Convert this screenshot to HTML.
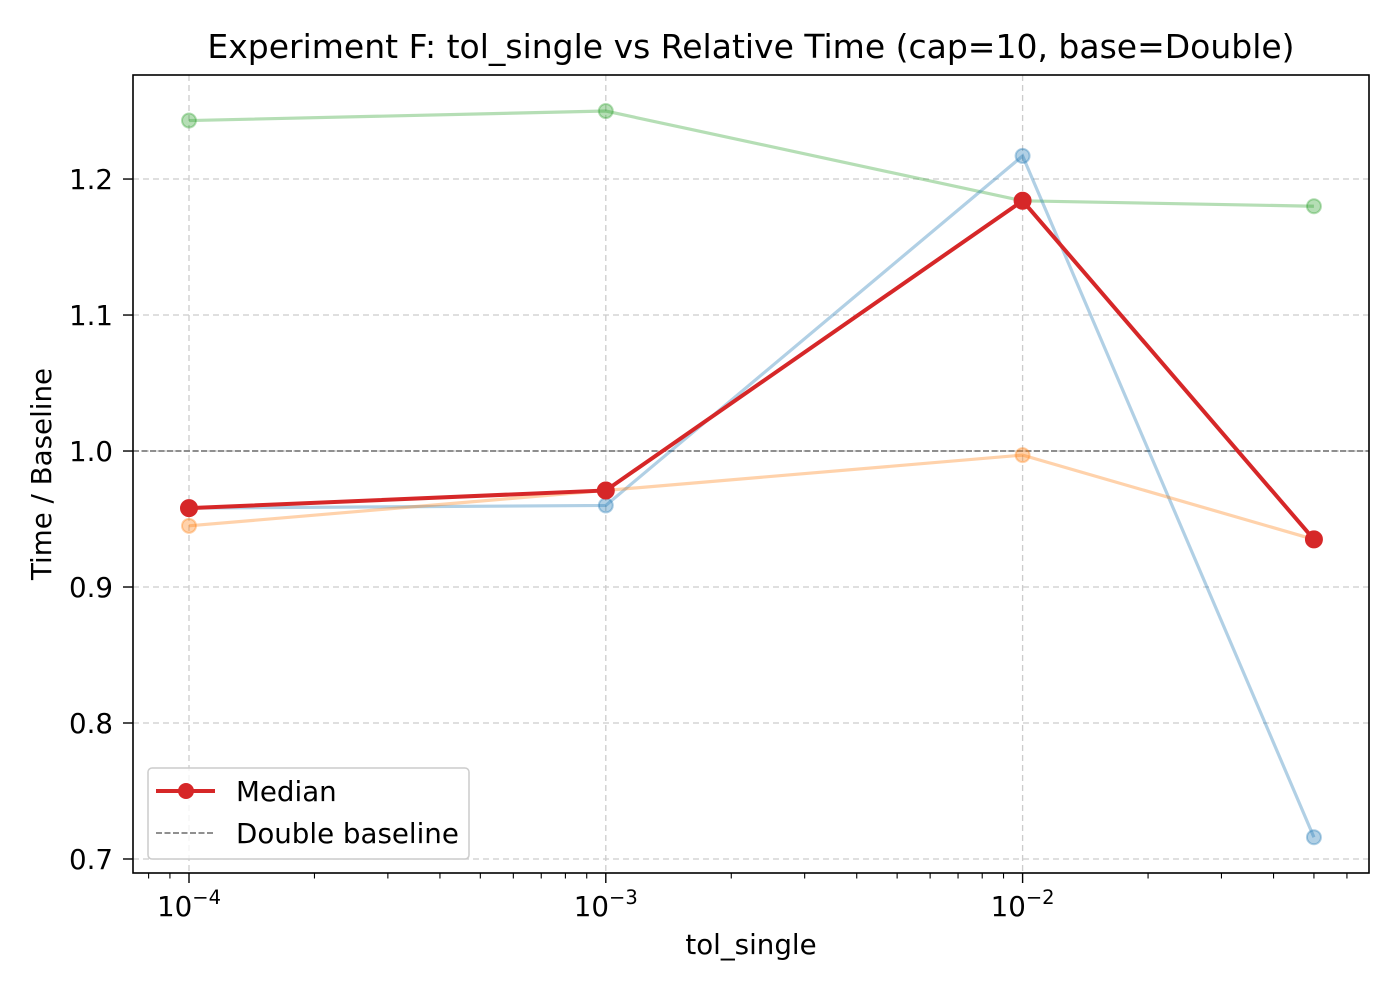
<!DOCTYPE html>
<html><head><meta charset="utf-8"><style>
body{margin:0;background:#fff;}
svg{display:block;font-family:"DejaVu Sans","Liberation Sans",sans-serif;}
</style></head><body>
<svg id="chart" width="1400" height="1000"></svg>
<script>
const xs=[0.0001,0.001,0.01,0.05];
const greenVals=[1.243,1.250,1.184,1.180];
const blueVals=[0.958,0.960,1.217,0.716];
const orangeVals=[0.945,0.971,0.997,0.935];
const medianVals=[0.958,0.971,1.184,0.935];
const yTicks=[0.7,0.8,0.9,1.0,1.1,1.2];
const yTickLabels=["0.7","0.8","0.9","1.0","1.1","1.2"];
const xTickExps=[-4,-3,-2];

const L=133,R=1369,T=75,B=873;
const xmin=-4-56/416.8,xmax=-4+1180/416.8,ymin=0.6897,ymax=1.2765;
const X=v=>L+(Math.log10(v)-xmin)/(xmax-xmin)*(R-L);
const Y=v=>B-(v-ymin)/(ymax-ymin)*(B-T);
const svg=document.getElementById('chart');
const NS='http://www.w3.org/2000/svg';
function mk(tag,attrs,parent){const e=document.createElementNS(NS,tag);for(const k in attrs)e.setAttribute(k,attrs[k]);(parent||svg).appendChild(e);return e;}

yTicks.forEach((v,i)=>{
 const g=mk('line',{x1:L,x2:R,y1:Y(v),y2:Y(v),stroke:'#ccc','stroke-dasharray':'6,4','stroke-width':1.3});
 
 
 const t=mk('line',{x1:L-10,x2:L,y1:Y(v),y2:Y(v),stroke:'#000','stroke-width':1.4});
 
 
 const tx=mk('text',{x:L-20,y:Y(v)+10,'text-anchor':'end','font-size':27.7});
 tx.textContent=yTickLabels[i];
 
 
});
xTickExps.forEach(e=>{
 const x=X(Math.pow(10,e));
 const g=mk('line',{x1:x,x2:x,y1:T,y2:B,stroke:'#ccc','stroke-dasharray':'6,4','stroke-width':1.3});
 
 
 const t=mk('line',{x1:x,x2:x,y1:B,y2:B+10,stroke:'#000','stroke-width':1.4});
 
 
 const tx=mk('text',{x:x,y:916,'text-anchor':'middle','font-size':27.7});
 tx.innerHTML='10<tspan dy="-12" font-size="19.5">−'+(-e)+'</tspan>';
 
 
});
for(let e=-5;e<=-1;e++)for(let m=2;m<=9;m++){
 const v=m*Math.pow(10,e);const lv=Math.log10(v);
 if(lv<xmin||lv>xmax)continue;
 const t=mk('line',{x1:X(v),x2:X(v),y1:B,y2:B+5.5,stroke:'#000','stroke-width':1.1});
 
 
}
const bl=mk('line',{x1:L,x2:R,y1:Y(1),y2:Y(1),stroke:'#808080','stroke-dasharray':'6,2.5','stroke-width':1.8});



function series(vals,color,name,op,w,r){
 const pts=vals.map((v,i)=>X(xs[i])+','+Y(v)).join(' ');
 const p=mk('polyline',{points:pts,fill:'none',stroke:color,'stroke-width':w,'stroke-opacity':op});
 
 
 vals.forEach((v,i)=>{
  const c=mk('circle',{cx:X(xs[i]),cy:Y(v),r:r,fill:color,'fill-opacity':op,stroke:color,'stroke-opacity':op,'stroke-width':2});
  
  
 });
}
series(greenVals,'#2ca02c','series-green',0.35,3.2,7);
series(blueVals,'#1f77b4','series-blue',0.35,3.2,7);
series(orangeVals,'#ff7f0e','series-orange',0.35,3.2,7);
series(medianVals,'#d62728','median',1,4,8);

const fr=mk('rect',{x:L,y:T,width:R-L,height:B-T,fill:'none',stroke:'#000','stroke-width':1.6});



const ti=mk('text',{x:(L+R)/2,y:58,'text-anchor':'middle','font-size':33});
ti.textContent='Experiment F: tol_single vs Relative Time (cap=10, base=Double)';


const xl=mk('text',{x:(L+R)/2,y:954,'text-anchor':'middle','font-size':27.7});
xl.textContent='tol_single';


const yl=mk('text',{x:0,y:0,'text-anchor':'middle','font-size':27.7,transform:'translate(51,474) rotate(-90)'});
yl.textContent='Time / Baseline';



const lg=mk('g',{});


mk('rect',{x:148,y:768,width:321,height:91,rx:4,fill:'#fff','fill-opacity':0.8,stroke:'#ccc','stroke-width':1.5},lg);
const l1=mk('line',{x1:156,x2:215,y1:791,y2:791,stroke:'#d62728','stroke-width':4},lg);


mk('circle',{cx:186,cy:791,r:8,fill:'#d62728'},lg);
const t1=mk('text',{x:236,y:801,'font-size':27.7},lg);t1.textContent='Median';


const l2=mk('line',{x1:156,x2:215,y1:833,y2:833,stroke:'#808080','stroke-width':1.8,'stroke-dasharray':'6,2.5'},lg);


const t2=mk('text',{x:236,y:843,'font-size':27.7},lg);t2.textContent='Double baseline';


</script>
</body></html>
